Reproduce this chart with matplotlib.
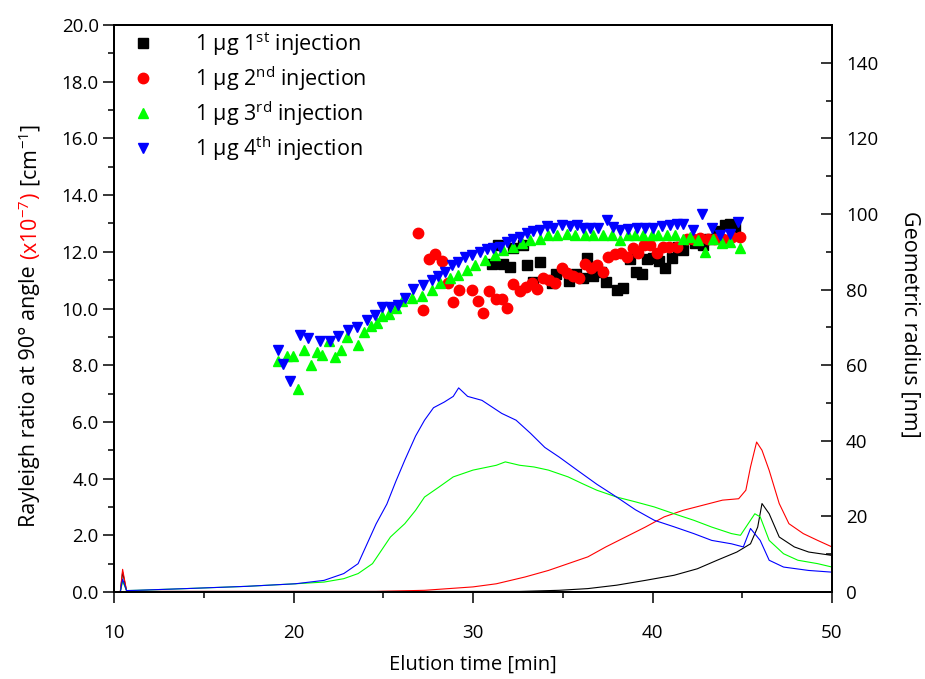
import numpy as np
import matplotlib
matplotlib.use("Agg")
import matplotlib.pyplot as plt
from matplotlib.ticker import MultipleLocator, FormatStrFormatter

plt.rcParams['font.family'] = ['Open Sans', 'DejaVu Sans']
plt.rcParams['mathtext.default'] = 'regular'

# Rayleigh ratio traces (left axis, x10^-7 cm^-1)
blue_t = [10.0, 10.35, 10.48, 10.7, 11.3, 14.0, 17.4, 20.1, 21.7, 22.8, 23.6, 24.1, 24.6, 25.2, 25.7,
          26.2, 26.8, 27.3, 27.8, 28.4, 28.9, 29.2, 29.7, 30.5, 31.6, 32.4, 33.2, 34.0, 34.8, 35.8,
          36.9, 38.0, 39.05, 40.1, 41.2, 42.3, 43.3, 44.4, 45.06, 45.46, 46.0, 46.5, 47.3, 48.7, 50.0]
blue_r = [0.0, 0.0, 0.45, 0.05, 0.06, 0.12, 0.2, 0.29, 0.41, 0.65, 1.0, 1.7, 2.4, 3.1, 3.9,
          4.65, 5.5, 6.06, 6.5, 6.7, 6.9, 7.2, 6.9, 6.76, 6.3, 6.06, 5.6, 5.1, 4.76, 4.3,
          3.8, 3.35, 2.9, 2.53, 2.3, 2.06, 1.82, 1.7, 1.59, 2.24, 1.82, 1.12, 0.88, 0.76, 0.7]

green_t = [10.0, 10.35, 10.48, 10.7, 11.3, 14.0, 17.4, 20.1, 21.7, 22.8, 23.6, 24.4, 24.9, 25.4, 26.2,
           26.8, 27.3, 28.1, 28.9, 30.0, 31.3, 31.8, 32.6, 33.4, 34.2, 35.3, 36.1, 36.9, 38.0, 39.05,
           40.1, 41.2, 42.3, 43.3, 44.4, 44.9, 45.7, 46.0, 46.5, 47.3, 48.1, 49.2, 50.0]
green_r = [0.0, 0.0, 0.38, 0.05, 0.06, 0.12, 0.2, 0.29, 0.35, 0.47, 0.65, 1.0, 1.47, 1.94, 2.41,
           2.88, 3.35, 3.7, 4.06, 4.3, 4.47, 4.59, 4.47, 4.41, 4.3, 4.06, 3.82, 3.59, 3.35, 3.18,
           3.0, 2.76, 2.53, 2.29, 2.06, 2.0, 2.76, 2.65, 1.82, 1.35, 1.12, 1.0, 0.88]

red_t = [10.0, 10.35, 10.48, 10.7, 12.0, 24.6, 27.3, 30.0, 31.3, 32.9, 34.2, 35.3, 36.4, 37.4, 38.5,
         39.6, 40.65, 41.7, 42.8, 43.9, 44.8, 45.2, 45.46, 45.8, 46.1, 46.5, 47.06, 47.6, 48.4, 49.2, 50.0]
red_r = [0.0, 0.0, 0.8, 0.04, 0.02, 0.02, 0.06, 0.18, 0.29, 0.53, 0.76, 1.0, 1.24, 1.59, 1.94,
         2.29, 2.65, 2.88, 3.06, 3.24, 3.29, 3.59, 4.41, 5.29, 5.0, 4.29, 3.12, 2.41, 2.06, 1.82, 1.59]

black_t = [10.0, 10.35, 10.48, 10.7, 12.0, 32.6, 34.8, 36.4, 38.0, 39.6, 41.2, 42.5, 43.6, 44.7, 45.46,
           45.86, 46.1, 46.5, 47.06, 47.9, 48.7, 50.0]
black_r = [0.0, 0.0, 0.7, 0.04, 0.02, 0.02, 0.06, 0.12, 0.24, 0.41, 0.59, 0.82, 1.12, 1.41, 1.7,
           2.29, 3.12, 2.76, 1.94, 1.59, 1.41, 1.29]

# Geometric radius (right axis, nm)
inj1_t = [31.04, 31.41, 31.69, 32.07, 32.25, 32.81, 33.03, 33.33, 33.73, 34.38, 34.63, 35.37, 35.74,
          36.11, 36.37, 36.71, 37.11, 37.41, 38.01, 38.37, 38.75, 39.08, 39.40, 39.71, 40.05, 40.38,
          40.70, 41.07, 41.44, 41.71, 42.36, 42.83, 43.17, 43.57, 44.04, 44.31, 44.60]
inj1_r = [86.9, 91.8, 86.7, 86.1, 90.9, 91.8, 86.5, 82.1, 87.2, 81.7, 84.0, 82.3, 84.0,
          83.2, 88.4, 83.7, 84.7, 81.9, 79.9, 80.3, 88.2, 84.6, 84.0, 88.1, 88.4, 87.6,
          85.8, 88.4, 91.3, 90.4, 92.2, 91.9, 93.5, 95.4, 97.2, 97.4, 96.6]

inj2_t = [26.92, 27.23, 27.55, 27.88, 28.26, 28.62, 28.91, 29.24, 29.92, 30.26, 30.57, 30.91, 31.28,
          31.60, 31.91, 32.25, 32.61, 32.95, 33.27, 33.58, 33.91, 34.25, 34.56, 34.94, 35.22, 35.56,
          35.93, 36.24, 36.55, 36.89, 37.22, 37.54, 37.92, 38.23, 38.60, 38.90, 39.21, 39.53, 39.87,
          40.23, 40.61, 40.93, 41.35, 41.91, 42.27, 42.65, 43.10, 43.48, 43.95, 44.42, 44.87]
inj2_r = [95.0, 74.5, 88.2, 89.3, 87.6, 81.7, 76.7, 79.9, 79.9, 77.1, 73.8, 79.7, 77.6,
          77.6, 75.1, 81.4, 79.7, 80.8, 81.7, 80.1, 83.0, 82.6, 81.8, 85.6, 84.3, 83.7,
          83.2, 86.7, 85.8, 86.5, 84.6, 88.7, 89.3, 89.6, 88.7, 90.9, 89.6, 91.8, 91.9,
          89.6, 91.3, 91.3, 91.3, 93.5, 93.5, 93.7, 93.5, 93.3, 93.3, 93.9, 93.9]

inj3_t = [19.16, 19.62, 20.00, 20.26, 20.60, 20.97, 21.29, 21.60, 21.98, 22.32, 22.64, 22.97, 23.61,
          23.94, 24.32, 24.63, 24.95, 25.32, 25.70, 26.06, 26.58, 27.14, 27.70, 28.17, 28.71, 29.18,
          29.65, 30.12, 30.66, 31.22, 31.69, 32.25, 32.72, 33.17, 33.73, 34.20, 34.67, 35.22, 35.68,
          36.24, 36.71, 37.26, 37.72, 38.19, 38.65, 39.02, 39.49, 39.96, 40.32, 40.79, 41.26, 41.71,
          42.09, 42.56, 42.92, 43.39, 43.86, 44.31, 44.87]
inj3_r = [61.2, 62.4, 62.4, 53.6, 63.9, 60.0, 63.5, 62.6, 66.3, 62.2, 64.1, 67.4, 65.4,
          68.8, 70.5, 71.1, 72.9, 73.5, 75.1, 77.0, 77.7, 78.2, 79.9, 81.7, 83.0, 83.9,
          85.2, 86.5, 87.8, 89.1, 90.4, 91.3, 92.2, 93.1, 93.5, 94.4, 94.4, 94.8, 94.4,
          94.4, 94.4, 94.4, 94.4, 93.1, 94.4, 94.4, 94.4, 94.4, 94.4, 94.4, 94.4, 93.5,
          93.9, 93.1, 90.0, 93.5, 92.2, 92.6, 90.9]

inj4_t = [19.16, 19.43, 19.81, 20.37, 20.82, 21.47, 22.03, 22.48, 23.06, 23.52, 24.08, 24.54, 24.92,
          25.37, 25.84, 26.22, 26.67, 27.23, 27.70, 28.06, 28.44, 28.82, 29.18, 29.56, 29.92, 30.39,
          30.77, 31.13, 31.51, 31.87, 32.25, 32.61, 32.99, 33.36, 33.73, 34.11, 34.47, 34.94, 35.41,
          35.77, 36.15, 36.51, 36.98, 37.45, 37.81, 38.19, 38.66, 39.12, 39.58, 40.05, 40.52, 40.97,
          41.35, 41.71, 42.27, 42.74, 43.30, 43.77, 44.32, 44.78]
inj4_r = [64.1, 60.2, 55.8, 68.1, 67.2, 66.5, 66.5, 67.6, 69.4, 70.0, 72.0, 73.3, 75.3,
          75.5, 75.8, 77.7, 80.2, 81.2, 82.6, 83.7, 84.7, 86.5, 87.4, 88.7, 89.1, 90.0,
          90.7, 90.9, 91.3, 92.6, 93.5, 93.9, 95.1, 95.4, 95.7, 96.8, 96.3, 97.2, 96.8,
          97.0, 96.3, 96.3, 96.3, 98.3, 96.6, 95.7, 96.1, 96.3, 96.3, 96.3, 96.8, 97.0,
          97.4, 97.4, 95.7, 100.1, 96.3, 94.4, 94.8, 97.9]

W, H = 925, 679
fig = plt.figure(figsize=(W / 100, H / 100), dpi=100)
ax = fig.add_axes([114 / W, 87 / H, 718 / W, 567 / H])
ax2 = ax.twinx()

lw = 0.8
ax.plot(black_t, black_r, color='black', lw=lw)
ax.plot(red_t, red_r, color='#ff0000', lw=lw)
ax.plot(green_t, green_r, color='#00ff00', lw=lw)
ax.plot(blue_t, blue_r, color='#0000ff', lw=lw)

ms = 7.5
ax2.plot(inj1_t, inj1_r, 's', color='black', ms=6.5, label='1 μg 1$^{st}$ injection')
ax2.plot(inj2_t, inj2_r, 'o', color='#ff0000', ms=ms, label='1 μg 2$^{nd}$ injection')
ax2.plot(inj3_t, inj3_r, '^', color='#00ff00', ms=ms, label='1 μg 3$^{rd}$ injection')
ax2.plot(inj4_t, inj4_r, 'v', color='#0000ff', ms=ms, label='1 μg 4$^{th}$ injection')

ax.set_xlim(10, 50)
ax.set_ylim(0, 20)
ax2.set_ylim(0, 150)

ax.xaxis.set_major_locator(MultipleLocator(10))
ax.xaxis.set_minor_locator(MultipleLocator(5))
ax.yaxis.set_major_locator(MultipleLocator(2))
ax.yaxis.set_minor_locator(MultipleLocator(1))
ax.yaxis.set_major_formatter(FormatStrFormatter('%.1f'))
ax2.set_yticks(np.arange(0, 141, 20))
ax2.yaxis.set_minor_locator(MultipleLocator(10))

ax.tick_params(which='major', direction='out', length=8, width=1.1, labelsize=13.5, pad=3)
ax.tick_params(which='minor', direction='out', length=4.5, width=1.1)
ax.tick_params(axis='x', which='major', pad=15)
ax2.tick_params(which='major', direction='in', length=8, width=1.1, labelsize=13.5, pad=10)
ax2.tick_params(which='minor', direction='in', length=4.5, width=1.1)
for a in (ax, ax2):
    for s in a.spines.values():
        s.set_linewidth(1.4)

ax.set_xlabel('Elution time [min]', fontsize=14.5, labelpad=9)

leg = ax2.legend(loc='upper left', bbox_to_anchor=(0.005, 1.018), frameon=False, fontsize=15.5,
                 handletextpad=1.9, labelspacing=0.3, handlelength=1.0, borderaxespad=0.3)

# right label
fig.text(910 / W, 1 - 324 / H, 'Geometric radius [nm]', rotation=270, fontsize=15.5,
         ha='center', va='center')

# left y label in three colored pieces, stacked vertically
fig.canvas.draw()
renderer = fig.canvas.get_renderer()
parts = [('Rayleigh ratio at 90° angle ', 'black'),
         ('(x10$^{-7}$)', '#ff0000'),
         (' [cm$^{-1}$]', 'black')]
y_px = H - 527
for txt, col in parts:
    t = fig.text(30 / W, y_px / H, txt, rotation=90, color=col, fontsize=15.5,
                 ha='center', va='bottom')
    bb = t.get_window_extent(renderer)
    y_px = bb.y1

fig.savefig('out.png', dpi=100)
